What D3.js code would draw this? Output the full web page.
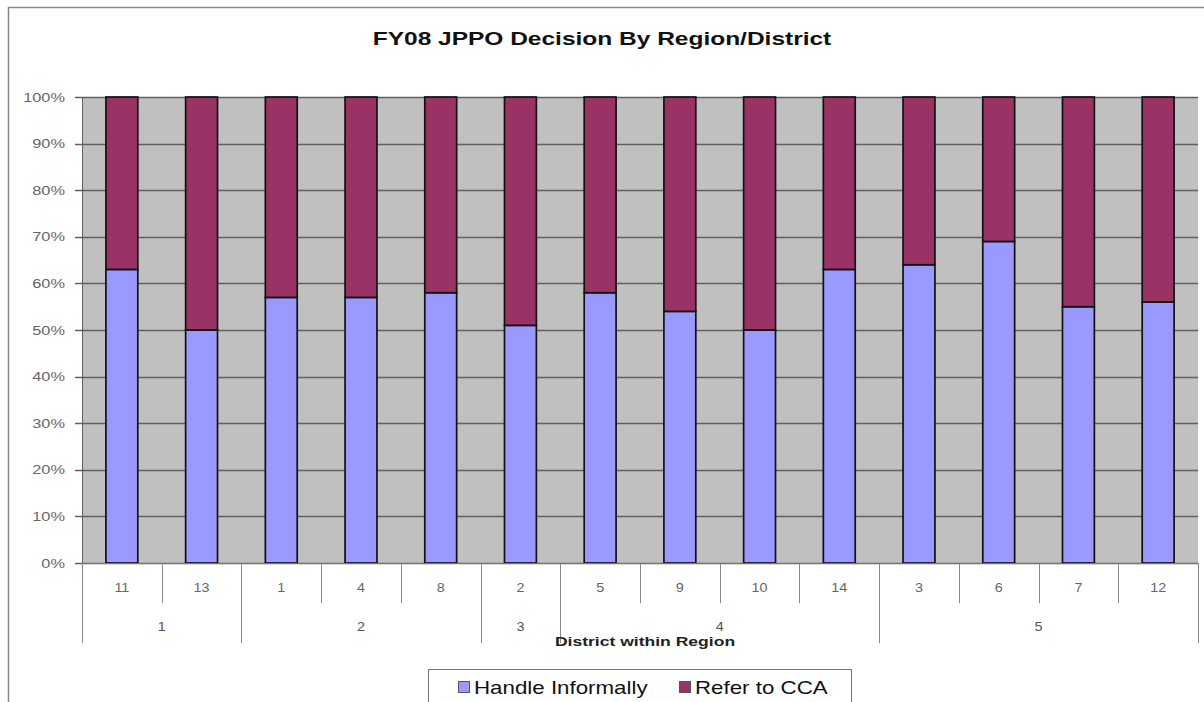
<!DOCTYPE html>
<html><head><meta charset="utf-8">
<script src="https://cdn.jsdelivr.net/npm/d3@7"></script>
<style>body{margin:0;background:#fff;}svg{display:block;font-family:"Liberation Sans",Arial,sans-serif;}</style>
</head><body>
<svg id="c" width="1204" height="702"></svg>
<script>
const districts = ["11","13","1","4","8","2","5","9","10","14","3","6","7","12"];
const regionOf  = ["1","1","2","2","2","3","4","4","4","4","5","5","5","5"];
const regions = ["1","2","3","4","5"];
const handleInformally = [63,50,57,57,58,51,58,54,50,63,64,69,55,56];
const referToCCA = handleInformally.map(v => 100 - v);
const yTicks = [0,10,20,30,40,50,60,70,80,90,100];
const seriesNames = ["Handle Informally","Refer to CCA"];
const colors = ["#9999ff","#993366"];

const svg = d3.select("#c");
const L=82,R=1198,T=97,B=563;
const SX = 1.26;
function stext(parent, x, y, str, opts){
  return parent.append("text")
    .attr("transform",`translate(${x},${y}) scale(${opts.sx||SX},1)`)
    .attr("text-anchor",opts.anchor||"start")
    .attr("font-size",opts.size||12)
    .attr("font-weight",opts.weight||"normal")
    .attr("fill",opts.fill||"#111")
    .text(str);
}
// chart border
svg.append("line").attr("x1",8.5).attr("x2",8.5).attr("y1",7).attr("y2",702).attr("stroke","#888").attr("stroke-width",1.5);
svg.append("line").attr("x1",8).attr("x2",1204).attr("y1",7.5).attr("y2",7.5).attr("stroke","#888").attr("stroke-width",1.5);

stext(svg,602,45,"FY08 JPPO Decision By Region/District",{anchor:"middle",size:19,weight:"bold",fill:"#111",sx:1.29});

const idx = districts.map((d,i)=>i);
const x = d3.scaleBand().domain(idx).range([L,R]).paddingInner(0).paddingOuter(0);
const y = d3.scaleLinear().domain([0,100]).range([B,T]);

svg.append("rect").attr("x",L).attr("y",T).attr("width",R-L).attr("height",B-T).attr("fill","#c0c0c0");
svg.append("g").selectAll("line").data(yTicks).join("line")
  .attr("x1",L-7).attr("x2",R).attr("y1",d=>Math.round(y(d))+0.5).attr("y2",d=>Math.round(y(d))+0.5)
  .attr("stroke","#606060").attr("stroke-width",1.3);
svg.append("line").attr("x1",L+0.5).attr("x2",L+0.5).attr("y1",T).attr("y2",B).attr("stroke","#606060");
const yl = svg.append("g");
yTicks.forEach(d=>stext(yl,65,y(d)+4.5,d+"%",{anchor:"end",size:13,fill:"#666"}));

const stacked = idx.map(i=>({i, a:handleInformally[i], b:referToCCA[i]}));
const stack = d3.stack().keys(["a","b"])(stacked);
const bw = x.bandwidth()*0.4;
svg.append("g").selectAll("g").data(stack).join("g").attr("fill",(d,k)=>colors[k])
  .selectAll("rect").data(d=>d).join("rect")
  .attr("x",d=>x(d.data.i)+(x.bandwidth()-bw)/2).attr("width",bw)
  .attr("y",d=>y(d[1])).attr("height",d=>y(d[0])-y(d[1]))
  .attr("stroke","#111").attr("stroke-width",1.7);

svg.append("line").attr("x1",L).attr("x2",R).attr("y1",B+0.5).attr("y2",B+0.5).attr("stroke","#777");
const bounds = idx.map(i=>x(i)).concat([R]);
svg.append("g").selectAll("line").data(bounds).join("line")
  .attr("x1",d=>Math.round(d)+0.5).attr("x2",d=>Math.round(d)+0.5).attr("y1",B).attr("y2",603).attr("stroke","#888");
const dl = svg.append("g");
idx.forEach(i=>stext(dl,x(i)+x.bandwidth()/2,592,districts[i],{anchor:"middle",size:12.5,fill:"#666",sx:1.15}));
const regionSpans = regions.map(r=>{
  const ii = idx.filter(i=>regionOf[i]===r);
  return {r, x0:x(ii[0]), x1:x(ii[ii.length-1])+x.bandwidth()};
});
const rb = [L].concat(regionSpans.map(s=>s.x1));
svg.append("g").selectAll("line").data(rb).join("line")
  .attr("x1",d=>Math.round(d)+0.5).attr("x2",d=>Math.round(d)+0.5).attr("y1",B).attr("y2",643).attr("stroke","#888");
const rl = svg.append("g");
regionSpans.forEach(d=>stext(rl,(d.x0+d.x1)/2,631,d.r,{anchor:"middle",size:12.5,fill:"#555",sx:1.15}));
stext(svg,645,646,"District within Region",{anchor:"middle",size:13.5,weight:"bold",fill:"#222",sx:1.3});

// legend
svg.append("rect").attr("x",428.5).attr("y",669.5).attr("width",423).attr("height",40).attr("fill","#fff").attr("stroke","#777");
const lx=[458,679];
seriesNames.forEach((n,k)=>{
  svg.append("rect").attr("x",lx[k]+0.5).attr("y",681.5).attr("width",11).attr("height",11).attr("fill",colors[k]).attr("stroke","#555");
  stext(svg,lx[k]+16,694,n,{size:18,fill:"#111",sx:1.24});
});
</script>
</body></html>
